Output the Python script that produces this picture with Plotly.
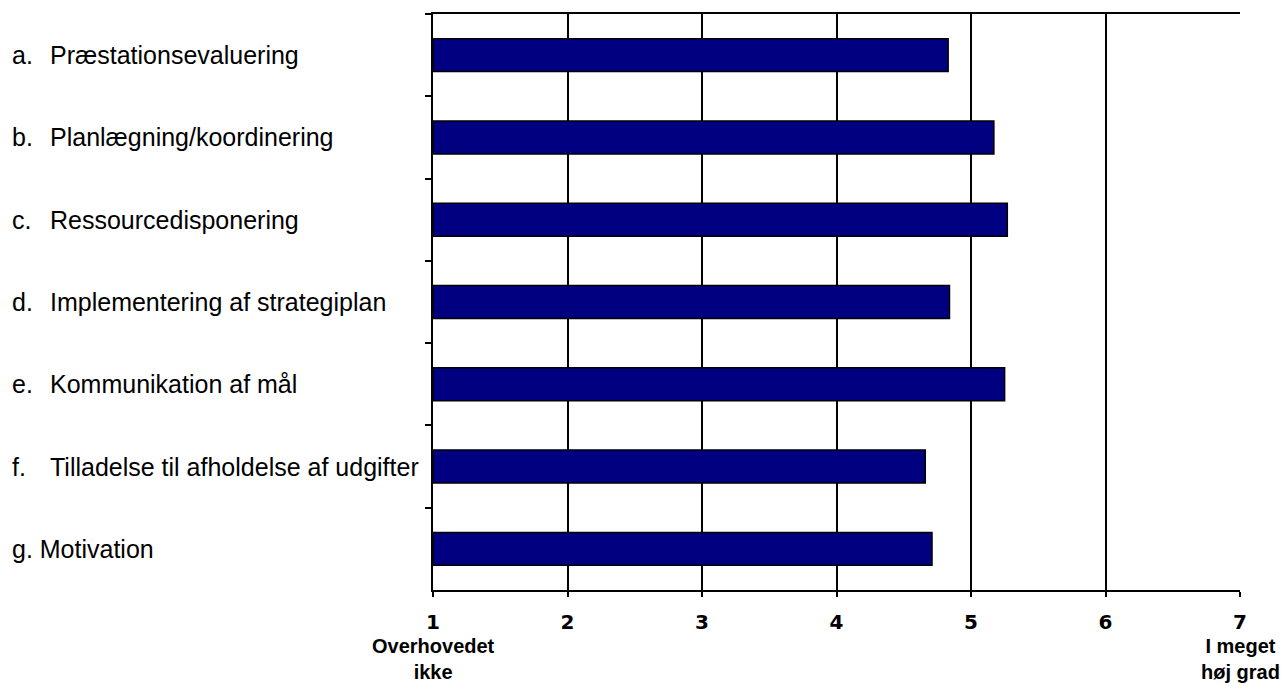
import plotly.graph_objects as go

prefixes = ["a.", "b.", "c.", "d.", "e.", "f.", "g. Motivation"]
names = ["Præstationsevaluering", "Planlægning/koordinering", "Ressourcedisponering",
         "Implementering af strategiplan", "Kommunikation af mål",
         "Tilladelse til afholdelse af udgifter", ""]
categories = ["a", "b", "c", "d", "e", "f", "g"]
values = [4.83, 5.17, 5.27, 4.84, 5.25, 4.66, 4.71]
tick_vals = [1, 2, 3, 4, 5, 6, 7]
tick_text = ["1", "2", "3", "4", "5", "6", "7"]
low_label = "Overhovedet<br>ikke"
high_label = "I meget<br>høj grad"

W, H = 1285, 683
L, R, T, B = 433, 45, 14, 93

fig = go.Figure()
fig.add_trace(go.Bar(
    x=[v - 1 for v in values], base=1, y=categories, orientation="h",
    marker=dict(color="#000080", line=dict(color="black", width=1.5)),
    showlegend=False,
))

label_font = dict(family="Liberation Sans, Arial", size=25, color="black")
annotations = []
for cat, p, n in zip(categories, prefixes, names):
    annotations.append(dict(xref="paper", yref="y", x=0, y=cat, xanchor="left",
                            xshift=-(L - 10), text=p, showarrow=False, font=label_font))
    if n:
        annotations.append(dict(xref="paper", yref="y", x=0, y=cat, xanchor="left",
                                xshift=-(L - 48), text=n, showarrow=False, font=label_font))

end_font = dict(family="Liberation Sans, Arial", size=20, color="black", weight="bold")
annotations.append(dict(xref="x", yref="paper", x=1, y=0, xanchor="center", yanchor="top",
                        yshift=-43, text=low_label, showarrow=False, font=end_font))
annotations.append(dict(xref="x", yref="paper", x=7, y=0, xanchor="center", yanchor="top",
                        yshift=-43, text=high_label, showarrow=False, font=end_font))

fig.update_layout(
    width=W, height=H,
    margin=dict(l=L, r=R, t=T, b=B, pad=0),
    paper_bgcolor="white", plot_bgcolor="white",
    bargap=0.6,
    annotations=annotations,
    xaxis=dict(range=[1, 7], tickvals=tick_vals, ticktext=tick_text,
               showgrid=True, gridcolor="black", gridwidth=2,
               showline=True, linecolor="black", linewidth=2, mirror=True,
               ticks="outside", ticklen=5, tickwidth=2, tickcolor="black",
               ticklabelstandoff=8, zeroline=False,
               tickfont=dict(family="DejaVu Sans", size=20, color="black", weight="bold")),
    yaxis=dict(categoryorder="array", categoryarray=categories, autorange="reversed",
               showticklabels=False, showgrid=False,
               showline=True, linecolor="black", linewidth=2, mirror=False,
               ticks="outside", ticklen=6, tickwidth=1.5, tickcolor="black",
               tickson="boundaries"),
)

fig.write_html("out.html")
